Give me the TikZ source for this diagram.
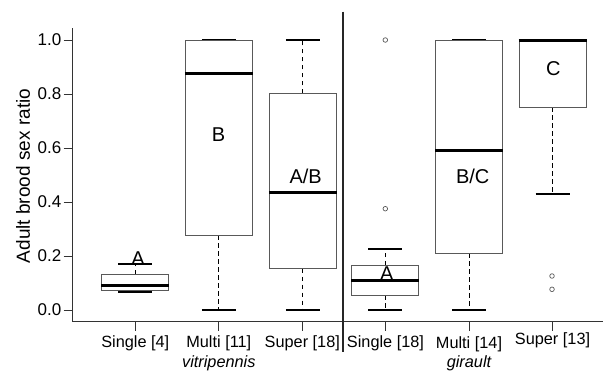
\documentclass[tikz,border=0pt]{standalone}
\usepackage{fontspec}
\setmainfont{Liberation Sans}
\newcommand\mybxp[6]{% #1 cx, #2 q3, #3 q1, #4 median, #5 upper whisker, #6 lower whisker (all px)
  \draw[whl] (#1,#2) -- (#1,#5);
  \draw[whl] (#1,#3) -- (#1,#6);
  \draw[capl] (#1-17,#5) -- (#1+17,#5);
  \draw[capl] (#1-17,#6) -- (#1+17,#6);
  \draw[boxo] (#1-33.5,#2) rectangle (#1+33.5,#3);
  \draw[medl] (#1-34,#4) -- (#1+34,#4);
}
\begin{document}
\begin{tikzpicture}[x=1pt,y=-1pt,
  boxo/.style={draw=black!65,line width=0.9pt},
  medl/.style={line width=3pt,draw=black},
  capl/.style={line width=2.2pt,draw=black},
  whl/.style={line width=0.8pt,draw=black,dash pattern=on 4.5pt off 3.5pt},
  outl/.style={draw=black!65,line width=0.7pt},
  axl/.style={line width=0.9pt,draw=black!80},
  ticklab/.style={font=\fontsize{17}{17}\selectfont,anchor=east,inner sep=0pt},
  grp/.style={font=\fontsize{16.3}{16}\selectfont,anchor=base,inner sep=0pt},
  spc/.style={font=\fontsize{16.3}{16}\selectfont\itshape,anchor=base,inner sep=0pt},
  let/.style={font=\fontsize{20}{20}\selectfont,anchor=base,inner sep=0pt}]
\useasboundingbox (0,0) rectangle (609,373);

% axes
\draw[axl] (72.7,28.3) -- (72.7,321.7) -- (603,321.7);
\foreach \v/\t [count=\i] in {0/0.0,0.2/0.2,0.4/0.4,0.6/0.6,0.8/0.8,1/1.0}{
  \draw[axl] (63.5,{310-270*\v}) -- (72.7,{310-270*\v});
  \node[ticklab] (yt\i) at (61.5,{310-270*\v}) {\t};
}
\foreach \x in {135.3,218.8,302.3,385.5,469,552.5}{
  \draw[axl] (\x,321.7) -- (\x,331);
}
\node[rotate=90,font=\fontsize{19}{19}\selectfont,inner sep=0pt] (ylab) at (23,176) {Adult brood sex ratio};

% separator
\draw[line width=2pt,black!85] (343.3,11.7) -- (343.3,352);

% boxes
\mybxp{135.3}{274.3}{290.3}{285}{264.3}{291.7}
\mybxp{218.8}{40}{235}{73.3}{40}{310}
\mybxp{302.8}{93.3}{268.7}{192.3}{40}{310}
\mybxp{385.3}{265}{295}{280.3}{249.3}{310}
\mybxp{469}{40}{253.3}{150.3}{40}{310}
\mybxp{552.7}{40}{107.3}{40}{40}{194}

% outliers
\draw[outl] (385.3,40) circle (2.3);
\draw[outl] (385.3,208.7) circle (2.3);
\draw[outl] (552,276) circle (2.3);
\draw[outl] (552,289.3) circle (2.3);

% letters
\node[let] (l1) at (138,265) {A};
\node[let] (l2) at (218.5,141.7) {B};
\node[let] (l3) at (305.7,183.5) {A/B};
\node[let] (l4) at (386.7,280.6) {A};
\node[let] (l5) at (472.7,183.3) {B/C};
\node[let] (l6) at (553.3,75.6) {C};

% group labels
\node[grp] (g1) at (135.3,347) {Single [4]};
\node[grp] (g2) at (218.8,347) {Multi [11]};
\node[grp] (g3) at (302.3,347) {Super [18]};
\node[grp] (g4) at (385.5,347) {Single [18]};
\node[grp] (g5) at (469,348.5) {Multi [14]};
\node[grp] (g6) at (552.5,344) {Super [13]};
\node[spc] (s1) at (218.8,367) {vitripennis};
\node[spc] (s2) at (469,367) {girault};
\end{tikzpicture}
\end{document}
